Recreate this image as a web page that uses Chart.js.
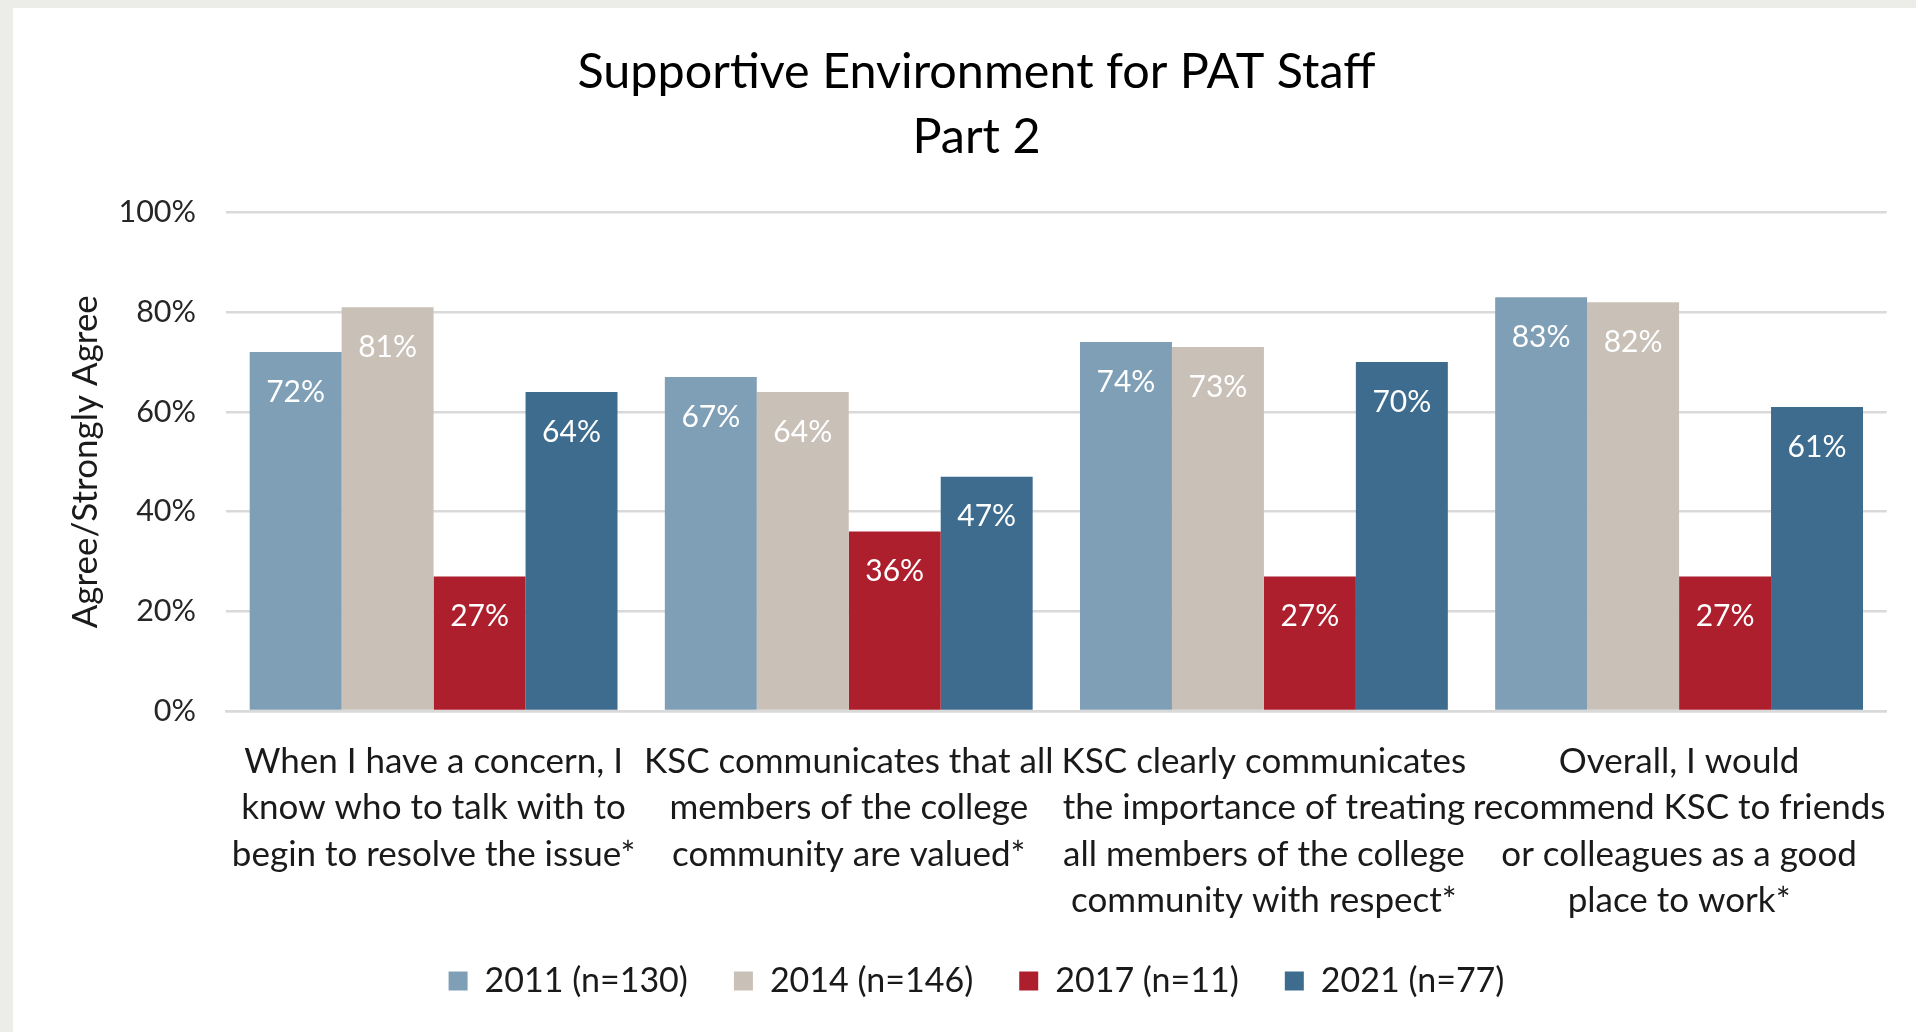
<!DOCTYPE html>
<html>
<head>
<meta charset="utf-8">
<script src="https://cdn.jsdelivr.net/npm/chart.js@4/dist/chart.umd.min.js"></script>
<style>
  html, body { margin: 0; padding: 0; background: #ECECE8; width: 1916px; height: 1032px; overflow: hidden; }
  #panel { position: absolute; left: 13px; top: 8px; width: 1903px; height: 1024px; background: #ffffff; }
  #wrap { position: absolute; left: 0; top: 0; width: 1916px; height: 1032px; }
</style>
</head>
<body>
<div id="panel"></div>
<div id="wrap"><canvas id="c" width="1916" height="1032"></canvas></div>
<script>
const categories = [
  ["When I have a concern, I", "know who to talk with to", "begin to resolve the issue*"],
  ["KSC communicates that all", "members of the college", "community are valued*"],
  ["KSC clearly communicates", "the importance of treating", "all members of the college", "community with respect*"],
  ["Overall, I would", "recommend KSC to friends", "or colleagues as a good", "place to work*"]
];
const seriesNames = ["2011 (n=130)", "2014 (n=146)", "2017 (n=11)", "2021 (n=77)"];
const values2011 = [72, 67, 74, 83];
const values2014 = [81, 64, 73, 82];
const values2017 = [27, 36, 27, 27];
const values2021 = [64, 47, 70, 61];
const colors = ["#7F9FB6", "#C9C0B7", "#AE1F2E", "#3D6C8E"];
const titleLines = ["Supportive Environment for PAT Staff", "Part 2"];
const yAxisTitle = "Agree/Strongly Agree";

const FONT = "Lato, 'Open Sans', sans-serif";

const valueLabels = {
  id: 'valueLabels',
  afterDatasetsDraw(chart) {
    const ctx = chart.ctx;
    ctx.save();
    ctx.fillStyle = '#ffffff';
    ctx.font = '30px ' + FONT;
    ctx.textAlign = 'center';
    ctx.textBaseline = 'middle';
    chart.data.datasets.forEach((ds, di) => {
      const meta = chart.getDatasetMeta(di);
      meta.data.forEach((el, i) => {
        ctx.fillText(ds.data[i] + '%', el.x, el.y + 40);
      });
    });
    ctx.restore();
  }
};

const allSeries = [values2011, values2014, values2017, values2021];

new Chart(document.getElementById('c'), {
  type: 'bar',
  data: {
    labels: categories,
    datasets: allSeries.map((v, i) => ({
      label: seriesNames[i],
      data: v,
      backgroundColor: colors[i],
      borderWidth: 0,
      barPercentage: 1.0,
      categoryPercentage: 0.886
    }))
  },
  options: {
    responsive: false,
    animation: false,
    devicePixelRatio: 1,
    layout: { padding: { top: 8, left: 65, right: 28, bottom: 24 } },
    plugins: {
      title: {
        display: true,
        text: titleLines,
        color: '#000000',
        font: { family: FONT, size: 48.5, weight: 'normal', lineHeight: 1.34 },
        padding: { top: 31.5, bottom: 43 }
      },
      legend: {
        position: 'bottom',
        labels: {
          color: '#1a1a1a',
          font: { family: FONT, size: 34 },
          boxWidth: 19,
          boxHeight: 19,
          padding: 46
        }
      },
      tooltip: { enabled: false }
    },
    scales: {
      x: {
        grid: { display: false, drawTicks: false },
        border: { display: true, color: '#D9D9D9', width: 2.5 },
        ticks: {
          color: '#1a1a1a',
          font: { family: FONT, size: 35, lineHeight: 1.33 },
          padding: 27,
          maxRotation: 0,
          minRotation: 0,
          autoSkip: false
        },
        afterFit: (scale) => { scale.height = 207; }
      },
      y: {
        min: 0,
        max: 100,
        ticks: {
          stepSize: 20,
          color: '#262626',
          font: { family: FONT, size: 30.5 },
          padding: 30,
          callback: v => v + '%'
        },
        grid: { color: '#D9D9D9', lineWidth: 2.5, drawTicks: false },
        border: { display: false },
        title: {
          display: true,
          text: yAxisTitle,
          color: '#1a1a1a',
          font: { family: FONT, size: 35 },
          padding: { top: 0, bottom: 0 }
        },
        afterFit: (scale) => { scale.width = 161; }
      }
    }
  },
  plugins: [valueLabels]
});
</script>
</body>
</html>
